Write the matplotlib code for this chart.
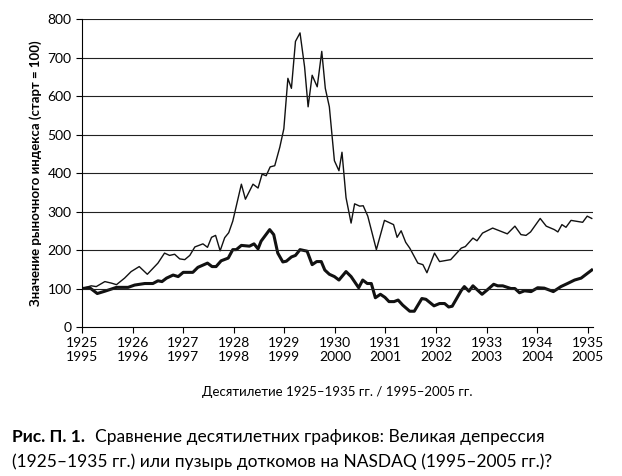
import matplotlib
matplotlib.use("Agg")
import matplotlib.pyplot as plt

plt.rcParams["font.family"] = "Lato"

thin_x = [0.00,0.18,0.28,0.45,0.58,0.68,0.84,0.97,1.13,1.29,1.50,1.63,1.73,1.83,1.93,2.03,2.13,2.23,2.39,2.48,
          2.56,2.64,2.73,2.82,2.90,2.98,3.15,3.23,3.38,3.48,3.56,3.64,3.72,3.81,3.91,3.99,4.07,4.14,4.22,4.31,
          4.40,4.47,4.55,4.65,4.74,4.81,4.89,4.99,5.08,5.14,5.22,5.32,5.39,5.49,5.56,5.65,5.82,5.98,6.16,6.23,
          6.31,6.40,6.48,6.64,6.74,6.82,6.97,7.07,7.29,7.50,7.58,7.73,7.81,7.92,8.12,8.41,8.56,8.68,8.78,8.87,
          9.06,9.18,9.34,9.41,9.49,9.57,9.67,9.90,9.99,10.08]
thin_y = [100,107,105,118,114,110,127,144,157,137,166,192,186,189,177,175,186,208,216,207,
          233,238,198,232,245,275,371,332,371,361,397,393,416,419,467,515,646,620,742,764,
          676,572,654,624,716,620,572,432,406,454,336,270,320,314,315,288,201,277,266,233,
          250,220,205,166,162,141,192,170,175,205,209,231,224,244,257,242,262,240,238,247,
          282,262,253,247,266,259,277,272,288,282]
thick_x = [0,0.15,0.30,0.45,0.68,0.91,1.04,1.24,1.40,1.50,1.58,1.67,1.80,1.90,2.00,2.19,2.29,2.48,2.57,2.65,
           2.75,2.89,2.98,3.05,3.15,3.31,3.40,3.48,3.54,3.71,3.79,3.87,3.97,4.04,4.14,4.22,4.31,4.45,4.55,4.64,
           4.73,4.80,4.89,4.99,5.08,5.22,5.32,5.47,5.55,5.64,5.72,5.80,5.90,5.99,6.07,6.17,6.25,6.34,6.48,6.57,
           6.72,6.80,6.96,7.07,7.17,7.25,7.32,7.50,7.56,7.65,7.73,7.91,8.01,8.14,8.22,8.32,8.48,8.56,8.65,8.75,
           8.88,9.01,9.14,9.32,9.47,9.60,9.74,9.87,10.00,10.08]
thick_y = [100,102,87,93,103,103,109,113,113,120,118,127,135,131,142,142,155,166,157,157,
           172,179,201,201,212,210,216,203,223,253,240,192,169,171,182,186,201,197,162,170,
           170,148,137,131,122,144,131,102,122,113,113,76,85,77,66,66,70,57,41,41,
           74,72,55,61,61,52,54,95,105,93,107,85,96,111,107,107,100,100,89,94,
           92,102,101,92,105,113,122,127,140,148]
tick_labels = [f"{1925+i}\n{1995+i}" for i in range(11)]

fig = plt.figure(figsize=(6.22, 4.76), dpi=100)
ax = fig.add_axes([0.132, 0.313, 0.821, 0.647])
ax.plot(thin_x, thin_y, color="#111111", lw=1.0)
ax.plot(thick_x, thick_y, color="#111111", lw=2.2)
ax.set_xlim(0, 10.1)
ax.set_ylim(0, 800)
ax.set_yticks(range(0, 801, 100))
ax.set_xticks(range(11))
ax.set_xticklabels(tick_labels, fontsize=10)
ax.tick_params(axis="y", labelsize=10, length=4)
ax.tick_params(axis="x", length=4)
for y in range(100, 801, 100):
    ax.axhline(y, color="#222222", lw=0.8)
for s in ["top", "right"]:
    ax.spines[s].set_visible(False)
ax.set_ylabel("Значение рыночного индекса (старт = 100)", fontsize=9.5, fontweight="bold")
ax.set_xlabel("Десятилетие 1925–1935 гг. / 1995–2005 гг.", fontsize=9.5, labelpad=16)

bold = fig.text(0.02, 0.082, "Рис. П. 1.", fontsize=12.5, fontweight="bold", va="center")
fig.canvas.draw()
bb = bold.get_window_extent().transformed(fig.transFigure.inverted())
fig.text(bb.x1 + 0.015, 0.082, "Сравнение десятилетних графиков: Великая депрессия", fontsize=12.5, va="center")
fig.text(0.02, 0.03, "(1925–1935 гг.) или пузырь доткомов на NASDAQ (1995–2005 гг.)?", fontsize=12.5, va="center")
fig.savefig("out.png", dpi=100)
